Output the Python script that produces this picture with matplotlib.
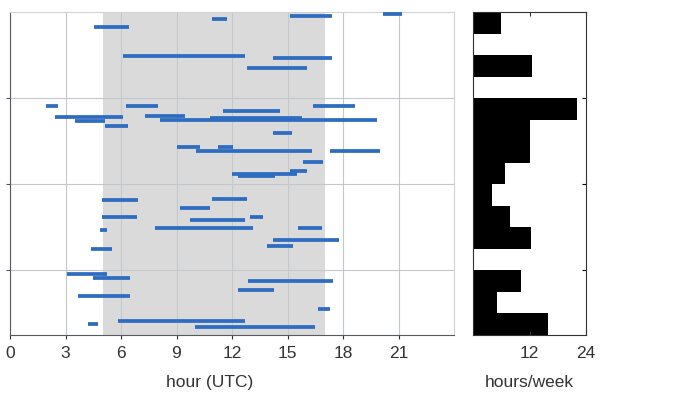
import numpy as np
import matplotlib
matplotlib.use("Agg")
import matplotlib.pyplot as plt

plt.rcParams['font.family'] = ['Liberation Sans', 'DejaVu Sans']

# observing sessions: start hour, end hour (UTC), week index from top
start_hr = [20.18, 15.15, 10.93, 4.55, 6.11, 14.23, 12.82, 1.95, 6.28, 16.40,
            11.53, 7.31, 8.12, 10.82, 2.44, 3.52, 5.14, 14.23, 9.04, 11.26,
            10.06, 17.32, 15.85, 15.15, 12.01, 12.34, 4.98, 10.93, 9.20, 4.98,
            12.99, 9.74, 7.85, 15.58, 4.87, 14.23, 13.91, 4.38, 3.08, 4.49,
            12.88, 12.34, 3.68, 16.67, 5.84, 4.22, 10.01]
end_hr = [21.21, 17.42, 11.74, 6.44, 12.72, 17.42, 16.07, 2.60, 8.01, 18.67,
          14.61, 9.47, 19.86, 15.80, 6.11, 5.14, 6.39, 15.26, 10.28, 12.07,
          16.34, 20.02, 16.94, 16.07, 15.53, 14.34, 6.93, 12.82, 10.82, 6.87,
          13.69, 12.72, 13.15, 16.88, 5.25, 17.80, 15.31, 5.52, 5.25, 6.49,
          17.48, 14.29, 6.49, 17.32, 12.72, 4.76, 16.50]
week = [0.10, 0.19, 0.33, 0.70, 2.05, 2.14, 2.60, 4.37, 4.37, 4.37,
        4.60, 4.84, 5.02, 4.93, 4.88, 5.07, 5.30, 5.63, 6.28, 6.28,
        6.47, 6.47, 6.98, 7.40, 7.53, 7.63, 8.74, 8.70, 9.12, 9.53,
        9.53, 9.67, 10.05, 10.05, 10.14, 10.60, 10.88, 11.02, 12.19, 12.33,
        12.51, 12.93, 13.21, 13.81, 14.37, 14.51, 14.65]

# weekly totals (hours/week), one bin per week
week_bins = list(range(15))
hours_per_week = [6, 0, 12.5, 0, 22, 12, 12, 6.8, 4, 7.8, 12.4, 0, 10.3, 5, 16]

hour_ticks = [0, 3, 6, 9, 12, 15, 18, 21]
day_start, day_end = 5, 17

fig = plt.figure(figsize=(6.83, 3.96), dpi=100)
ax = fig.add_axes([10/683, 1-335/396, 444/683, 323/396])
axh = fig.add_axes([473/683, 1-335/396, 113/683, 323/396])

ax.axvspan(day_start, day_end, color='#dadada', zorder=0, lw=0)
ax.hlines(week, start_hr, end_hr, colors='#2d6cc0', lw=2.7, zorder=3)
ax.set_xlim(0, 24)
ax.set_ylim(15, 0)
ax.set_xticks(hour_ticks)
ax.set_yticks([4, 8, 12])
ax.set_yticklabels([])
ax.grid(True, color='#c4c8cc', lw=0.8, zorder=1)
ax.set_axisbelow(True)
ax.tick_params(axis='x', labelsize=12.5, colors='#333333', length=3, pad=5)
ax.tick_params(axis='y', length=3, colors='#555555')
for s in ['top', 'right']:
    ax.spines[s].set_color('#d0d4d8')
for s in ['left', 'bottom']:
    ax.spines[s].set_color('#555a60')
ax.set_xlabel('hour (UTC)', fontsize=12.5, color='#333333')
ax.xaxis.set_label_coords(200/444, -0.125)

axh.barh(week_bins, hours_per_week, height=1, align='edge', color='black', lw=0)
axh.set_xlim(0, 24)
axh.set_ylim(15, 0)
axh.set_xticks([12, 24])
axh.set_yticks([4, 8, 12])
axh.set_yticklabels([])
axh.tick_params(axis='x', labelsize=12.5, colors='#333333', direction='in',
                top=True, length=3, pad=8)
axh.tick_params(axis='y', direction='in', left=False, right=True, length=3)
for s in axh.spines.values():
    s.set_color('#333333')
axh.set_xlabel('hours/week', fontsize=12.5, color='#333333')
axh.xaxis.set_label_coords(0.5, -0.125)

fig.savefig('out.png', dpi=100)
